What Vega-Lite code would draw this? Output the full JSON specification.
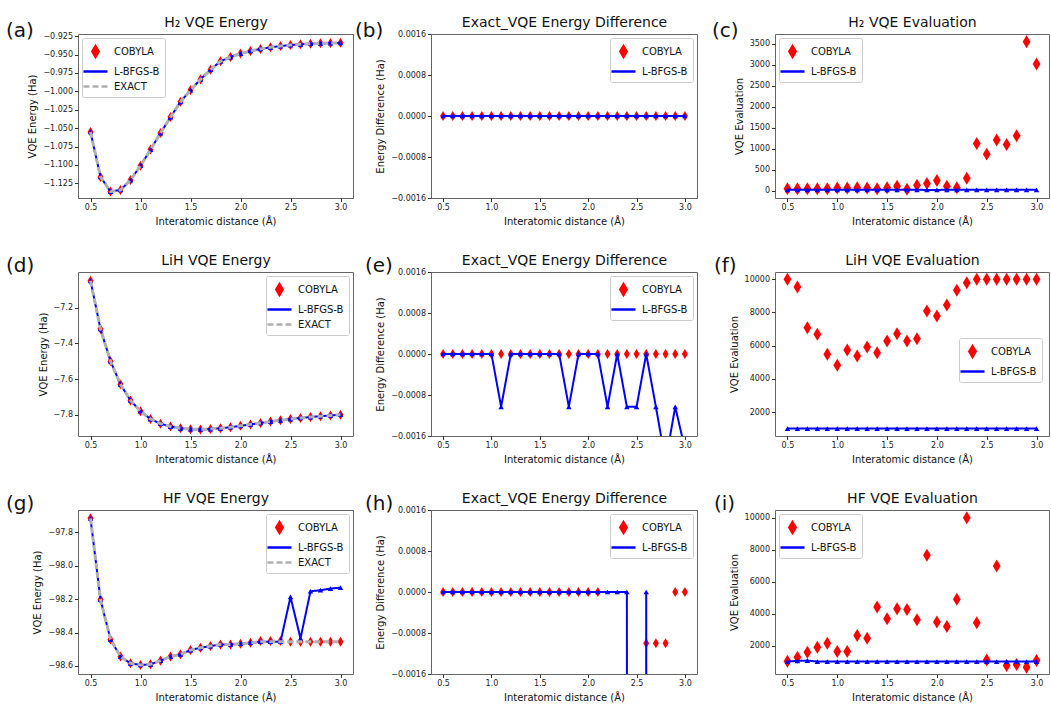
{
"$schema": "https://vega.github.io/schema/vega-lite/v6.json",
"padding": {"left": 5, "top": 14, "right": 5, "bottom": 2},
"background": "white",
"columns": 3,
"spacing": {"row": 74, "column": 78},
"bounds": "flush",
"resolve": {"scale": {"x": "independent", "y": "independent", "color": "independent", "shape": "independent", "strokeDash": "independent"}, "legend": {"color": "independent", "shape": "independent", "strokeDash": "independent"}, "axis": {"x": "independent", "y": "independent"}},
"datasets": {
"a": [
{"x":0.5,"c":-1.0551,"l":-1.0551,"e":-1.0551},{"x":0.6,"c":-1.1163,"l":-1.1163,"e":-1.1163},{"x":0.7,"c":-1.1362,"l":-1.1362,"e":-1.1362},{"x":0.8,"c":-1.1341,"l":-1.1341,"e":-1.1341},{"x":0.9,"c":-1.1206,"l":-1.1206,"e":-1.1206},{"x":1.0,"c":-1.1011,"l":-1.1011,"e":-1.1011},{"x":1.1,"c":-1.0792,"l":-1.0792,"e":-1.0792},{"x":1.2,"c":-1.0567,"l":-1.0567,"e":-1.0567},{"x":1.3,"c":-1.0349,"l":-1.0349,"e":-1.0349},{"x":1.4,"c":-1.0142,"l":-1.0142,"e":-1.0142},{"x":1.5,"c":-0.9983,"l":-0.9983,"e":-0.9983},{"x":1.6,"c":-0.9837,"l":-0.9837,"e":-0.9837},{"x":1.7,"c":-0.9706,"l":-0.9706,"e":-0.9706},{"x":1.8,"c":-0.9591,"l":-0.9591,"e":-0.9591},{"x":1.9,"c":-0.9533,"l":-0.9533,"e":-0.9533},{"x":2.0,"c":-0.9486,"l":-0.9486,"e":-0.9486},{"x":2.1,"c":-0.9451,"l":-0.9451,"e":-0.9451},{"x":2.2,"c":-0.9423,"l":-0.9423,"e":-0.9423},{"x":2.3,"c":-0.9401,"l":-0.9401,"e":-0.9401},{"x":2.4,"c":-0.9384,"l":-0.9384,"e":-0.9384},{"x":2.5,"c":-0.937,"l":-0.937,"e":-0.937},{"x":2.6,"c":-0.936,"l":-0.936,"e":-0.936},{"x":2.7,"c":-0.9352,"l":-0.9352,"e":-0.9352},{"x":2.8,"c":-0.9347,"l":-0.9347,"e":-0.9347},{"x":2.9,"c":-0.9343,"l":-0.9343,"e":-0.9343},{"x":3.0,"c":-0.934,"l":-0.934,"e":-0.934}
],
"b": [
{"x":0.5,"c":0,"l":0},{"x":0.6,"c":0,"l":0},{"x":0.7,"c":0,"l":0},{"x":0.8,"c":0,"l":0},{"x":0.9,"c":0,"l":0},{"x":1.0,"c":0,"l":0},{"x":1.1,"c":0,"l":0},{"x":1.2,"c":0,"l":0},{"x":1.3,"c":0,"l":0},{"x":1.4,"c":0,"l":0},{"x":1.5,"c":0,"l":0},{"x":1.6,"c":0,"l":0},{"x":1.7,"c":0,"l":0},{"x":1.8,"c":0,"l":0},{"x":1.9,"c":0,"l":0},{"x":2.0,"c":0,"l":0},{"x":2.1,"c":0,"l":0},{"x":2.2,"c":0,"l":0},{"x":2.3,"c":0,"l":0},{"x":2.4,"c":0,"l":0},{"x":2.5,"c":0,"l":0},{"x":2.6,"c":0,"l":0},{"x":2.7,"c":0,"l":0},{"x":2.8,"c":0,"l":0},{"x":2.9,"c":0,"l":0},{"x":3.0,"c":0,"l":0}
],
"c": [
{"x":0.5,"c":48,"l":20},{"x":0.6,"c":48,"l":20},{"x":0.7,"c":48,"l":20},{"x":0.8,"c":48,"l":20},{"x":0.9,"c":48,"l":20},{"x":1.0,"c":64,"l":20},{"x":1.1,"c":64,"l":20},{"x":1.2,"c":72,"l":20},{"x":1.3,"c":64,"l":20},{"x":1.4,"c":48,"l":20},{"x":1.5,"c":72,"l":20},{"x":1.6,"c":104,"l":20},{"x":1.7,"c":32,"l":20},{"x":1.8,"c":128,"l":20},{"x":1.9,"c":168,"l":18},{"x":2.0,"c":240,"l":18},{"x":2.1,"c":104,"l":20},{"x":2.2,"c":72,"l":20},{"x":2.3,"c":296,"l":20},{"x":2.4,"c":1127,"l":20},{"x":2.5,"c":871,"l":20},{"x":2.6,"c":1207,"l":20},{"x":2.7,"c":1103,"l":20},{"x":2.8,"c":1310,"l":20},{"x":2.9,"c":3548,"l":20},{"x":3.0,"c":3020,"l":20}
],
"d": [
{"x":0.5,"c":-7.05,"l":-7.05,"e":-7.05},{"x":0.6,"c":-7.32,"l":-7.32,"e":-7.32},{"x":0.7,"c":-7.5,"l":-7.5,"e":-7.5},{"x":0.8,"c":-7.63,"l":-7.63,"e":-7.63},{"x":0.9,"c":-7.72,"l":-7.72,"e":-7.72},{"x":1.0,"c":-7.78,"l":-7.78,"e":-7.78},{"x":1.1,"c":-7.824,"l":-7.824,"e":-7.824},{"x":1.2,"c":-7.85,"l":-7.85,"e":-7.85},{"x":1.3,"c":-7.866,"l":-7.866,"e":-7.866},{"x":1.4,"c":-7.876,"l":-7.876,"e":-7.876},{"x":1.5,"c":-7.881,"l":-7.881,"e":-7.881},{"x":1.6,"c":-7.882,"l":-7.882,"e":-7.882},{"x":1.7,"c":-7.88,"l":-7.88,"e":-7.88},{"x":1.8,"c":-7.876,"l":-7.876,"e":-7.876},{"x":1.9,"c":-7.87,"l":-7.87,"e":-7.87},{"x":2.0,"c":-7.862,"l":-7.862,"e":-7.862},{"x":2.1,"c":-7.854,"l":-7.854,"e":-7.854},{"x":2.2,"c":-7.846,"l":-7.846,"e":-7.846},{"x":2.3,"c":-7.838,"l":-7.838,"e":-7.838},{"x":2.4,"c":-7.831,"l":-7.831,"e":-7.831},{"x":2.5,"c":-7.824,"l":-7.824,"e":-7.824},{"x":2.6,"c":-7.818,"l":-7.818,"e":-7.818},{"x":2.7,"c":-7.813,"l":-7.813,"e":-7.813},{"x":2.8,"c":-7.808,"l":-7.808,"e":-7.808},{"x":2.9,"c":-7.804,"l":-7.804,"e":-7.804},{"x":3.0,"c":-7.8,"l":-7.8,"e":-7.8}
],
"e": [
{"x":0.5,"c":0,"l":0},{"x":0.6,"c":0,"l":0},{"x":0.7,"c":0,"l":0},{"x":0.8,"c":0,"l":0},{"x":0.9,"c":0,"l":0},{"x":1.0,"c":0,"l":0},{"x":1.1,"c":0,"l":-0.00103},{"x":1.2,"c":0,"l":0},{"x":1.3,"c":0,"l":0},{"x":1.4,"c":0,"l":0},{"x":1.5,"c":0,"l":0},{"x":1.6,"c":0,"l":0},{"x":1.7,"c":0,"l":0},{"x":1.8,"c":0,"l":-0.00103},{"x":1.9,"c":0,"l":0},{"x":2.0,"c":0,"l":0},{"x":2.1,"c":0,"l":0},{"x":2.2,"c":0,"l":-0.00103},{"x":2.3,"c":0,"l":0},{"x":2.4,"c":0,"l":-0.00103},{"x":2.5,"c":0,"l":-0.00103},{"x":2.6,"c":0,"l":0},{"x":2.7,"c":0,"l":-0.00103},{"x":2.8,"c":0,"l":-0.0021},{"x":2.9,"c":0,"l":-0.00103},{"x":3.0,"c":0,"l":-0.00185}
],
"f": [
{"x":0.5,"c":10000,"l":1000},{"x":0.6,"c":9538,"l":1000},{"x":0.7,"c":7085,"l":1000},{"x":0.8,"c":6683,"l":1000},{"x":0.9,"c":5477,"l":1000},{"x":1.0,"c":4814,"l":1000},{"x":1.1,"c":5739,"l":1000},{"x":1.2,"c":5377,"l":1000},{"x":1.3,"c":5920,"l":1000},{"x":1.4,"c":5578,"l":1000},{"x":1.5,"c":6281,"l":1000},{"x":1.6,"c":6724,"l":1000},{"x":1.7,"c":6281,"l":1000},{"x":1.8,"c":6422,"l":1000},{"x":1.9,"c":8090,"l":1000},{"x":2.0,"c":7789,"l":1000},{"x":2.1,"c":8452,"l":1000},{"x":2.2,"c":9337,"l":1000},{"x":2.3,"c":9799,"l":1000},{"x":2.4,"c":10000,"l":1000},{"x":2.5,"c":10000,"l":1000},{"x":2.6,"c":10000,"l":1000},{"x":2.7,"c":10000,"l":1000},{"x":2.8,"c":10000,"l":1000},{"x":2.9,"c":10000,"l":1000},{"x":3.0,"c":10000,"l":1000}
],
"g": [
{"x":0.5,"c":-97.717,"l":-97.717,"e":-97.717},{"x":0.6,"c":-98.203,"l":-98.203,"e":-98.203},{"x":0.7,"c":-98.441,"l":-98.441,"e":-98.441},{"x":0.8,"c":-98.544,"l":-98.544,"e":-98.544},{"x":0.9,"c":-98.584,"l":-98.584,"e":-98.584},{"x":1.0,"c":-98.594,"l":-98.594,"e":-98.594},{"x":1.1,"c":-98.59,"l":-98.59,"e":-98.59},{"x":1.2,"c":-98.568,"l":-98.568,"e":-98.568},{"x":1.3,"c":-98.544,"l":-98.544,"e":-98.544},{"x":1.4,"c":-98.53,"l":-98.53,"e":-98.53},{"x":1.5,"c":-98.505,"l":-98.505,"e":-98.505},{"x":1.6,"c":-98.491,"l":-98.491,"e":-98.491},{"x":1.7,"c":-98.481,"l":-98.481,"e":-98.481},{"x":1.8,"c":-98.471,"l":-98.471,"e":-98.471},{"x":1.9,"c":-98.471,"l":-98.471,"e":-98.471},{"x":2.0,"c":-98.467,"l":-98.467,"e":-98.467},{"x":2.1,"c":-98.461,"l":-98.461,"e":-98.461},{"x":2.2,"c":-98.451,"l":-98.455,"e":-98.455},{"x":2.3,"c":-98.451,"l":-98.455,"e":-98.455},{"x":2.4,"c":-98.451,"l":-98.455,"e":-98.455},{"x":2.5,"c":-98.455,"l":-98.187,"e":-98.455},{"x":2.6,"c":-98.455,"l":-98.435,"e":-98.455},{"x":2.7,"c":-98.455,"l":-98.153,"e":-98.455},{"x":2.8,"c":-98.455,"l":-98.147,"e":-98.455},{"x":2.9,"c":-98.455,"l":-98.137,"e":-98.455},{"x":3.0,"c":-98.455,"l":-98.131,"e":-98.455}
],
"h": [
{"x":0.5,"c":0,"l":0},{"x":0.6,"c":0,"l":0},{"x":0.7,"c":0,"l":0},{"x":0.8,"c":0,"l":0},{"x":0.9,"c":0,"l":0},{"x":1.0,"c":0,"l":0},{"x":1.1,"c":0,"l":0},{"x":1.2,"c":0,"l":0},{"x":1.3,"c":0,"l":0},{"x":1.4,"c":0,"l":0},{"x":1.5,"c":0,"l":0},{"x":1.6,"c":0,"l":0},{"x":1.7,"c":0,"l":0},{"x":1.8,"c":0,"l":0},{"x":1.9,"c":0,"l":0},{"x":2.0,"c":0,"l":0},{"x":2.1,"c":0,"l":0},{"x":2.2,"c":-0.004,"l":0},{"x":2.3,"c":-0.004,"l":0},{"x":2.4,"c":-0.004,"l":0},{"x":2.5,"c":-0.003,"l":-0.268},{"x":2.6,"c":-0.001,"l":0},{"x":2.7,"c":-0.001,"l":-0.302},{"x":2.8,"c":-0.001,"l":-0.308},{"x":2.9,"c":0,"l":-0.318},{"x":3.0,"c":0,"l":-0.324}
],
"i": [
{"x":0.5,"c":1017,"l":1000},{"x":0.6,"c":1268,"l":1040},{"x":0.7,"c":1582,"l":1060},{"x":0.8,"c":1896,"l":1000},{"x":0.9,"c":2147,"l":1000},{"x":1.0,"c":1624,"l":1000},{"x":1.1,"c":1624,"l":1000},{"x":1.2,"c":2629,"l":1000},{"x":1.3,"c":2462,"l":1000},{"x":1.4,"c":4409,"l":1000},{"x":1.5,"c":3676,"l":1000},{"x":1.6,"c":4304,"l":1000},{"x":1.7,"c":4262,"l":1000},{"x":1.8,"c":3613,"l":1000},{"x":1.9,"c":7655,"l":1000},{"x":2.0,"c":3467,"l":1000},{"x":2.1,"c":3195,"l":1000},{"x":2.2,"c":4891,"l":1000},{"x":2.3,"c":10000,"l":1000},{"x":2.4,"c":3425,"l":1000},{"x":2.5,"c":1100,"l":1000},{"x":2.6,"c":6985,"l":1000},{"x":2.7,"c":745,"l":1000},{"x":2.8,"c":807,"l":1000},{"x":2.9,"c":640,"l":1000},{"x":3.0,"c":1059,"l":1000}
]
},
"concat": [
{
"width": 275, "height": 164, "data": {"name": "a"},
"title": {"text": "(a)", "anchor": "start", "frame": "group", "fontSize": 20, "dx": -72, "dy": 26, "offset": 0},
"resolve": {"axis": {"x": "independent"}},
"layer": [
{"mark": {"type": "point", "filled": true, "opacity": 1, "size": 178, "clip": true},
 "encoding": {"x": {"field": "x", "type": "quantitative", "scale": {"domain": [0.375, 3.125], "nice": false, "zero": false}, "axis": {"values": [0.5,1,1.5,2,2.5,3], "tickCount": 12, "format": ".1f", "title": "Interatomic distance (Å)"}},
  "y": {"field": "c", "type": "quantitative", "scale": {"domain": [-1.145, -0.922], "nice": false, "zero": false}, "axis": {"values": [-1.125,-1.1,-1.075,-1.05,-1.025,-1,-0.975,-0.95,-0.925], "tickCount": 12, "format": ".3f", "title": "VQE Energy (Ha)"}},
  "color": {"datum": "COBYLA", "scale": {"domain": ["COBYLA","L-BFGS-B","EXACT"], "range": ["#ff0000","#0000ff","#b0b0b0"]}, "legend": {"title": null, "orient": "top-left"}},
  "shape": {"datum": "COBYLA", "scale": {"domain": ["COBYLA","L-BFGS-B","EXACT"], "range": ["M0,-0.75L0.45,0L0,0.75L-0.45,0Z","M-1.7,0L1.7,0","M-1.7,0L1.7,0"]}, "legend": {"title": null, "orient": "top-left"}}}},
{"mark": {"type": "line", "strokeWidth": 2, "clip": true},
 "encoding": {"x": {"field": "x", "type": "quantitative", "axis": null}, "y": {"field": "l", "type": "quantitative"}, "color": {"datum": "L-BFGS-B"}, "strokeDash": {"datum": "L-BFGS-B", "scale": {"domain": ["COBYLA","L-BFGS-B","EXACT"], "range": [[1,0],[1,0],[6,3]]}, "legend": {"title": null, "orient": "top-left"}}}},
{"mark": {"type": "point", "shape": "triangle-up", "filled": true, "color": "#0000ff", "size": 30, "opacity": 1, "clip": true},
 "encoding": {"x": {"field": "x", "type": "quantitative", "axis": {"orient": "top", "title": "H₂ VQE Energy", "labels": false, "ticks": false, "domain": false, "titleFontSize": 14, "titlePadding": 5}}, "y": {"field": "l", "type": "quantitative"}}},
{"mark": {"type": "line", "strokeWidth": 3, "clip": true},
 "encoding": {"x": {"field": "x", "type": "quantitative", "axis": null}, "y": {"field": "e", "type": "quantitative"}, "color": {"datum": "EXACT"}, "strokeDash": {"datum": "EXACT"}}}
]
},
{
"width": 266, "height": 164, "data": {"name": "b"},
"title": {"text": "(b)", "anchor": "start", "frame": "group", "fontSize": 20, "dx": -76, "dy": 26, "offset": 0},
"resolve": {"axis": {"x": "independent"}},
"layer": [
{"mark": {"type": "point", "filled": true, "opacity": 1, "size": 178, "clip": true},
 "encoding": {"x": {"field": "x", "type": "quantitative", "scale": {"domain": [0.375, 3.125], "nice": false, "zero": false}, "axis": {"values": [0.5,1,1.5,2,2.5,3], "tickCount": 12, "format": ".1f", "title": "Interatomic distance (Å)"}},
  "y": {"field": "c", "type": "quantitative", "scale": {"domain": [-0.0016, 0.0016], "nice": false, "zero": false}, "axis": {"values": [-0.0016,-0.0008,0,0.0008,0.0016], "tickCount": 12, "format": ".4f", "title": "Energy Difference (Ha)"}},
  "color": {"datum": "COBYLA", "scale": {"domain": ["COBYLA","L-BFGS-B"], "range": ["#ff0000","#0000ff"]}, "legend": {"title": null, "orient": "top-right"}},
  "shape": {"datum": "COBYLA", "scale": {"domain": ["COBYLA","L-BFGS-B"], "range": ["M0,-0.75L0.45,0L0,0.75L-0.45,0Z","M-1.7,0L1.7,0"]}, "legend": {"title": null, "orient": "top-right"}}}},
{"mark": {"type": "line", "strokeWidth": 2, "clip": true},
 "encoding": {"x": {"field": "x", "type": "quantitative", "axis": null}, "y": {"field": "l", "type": "quantitative"}, "color": {"datum": "L-BFGS-B"}, "strokeDash": {"datum": "L-BFGS-B", "scale": {"domain": ["COBYLA","L-BFGS-B"], "range": [[1,0],[1,0]]}, "legend": {"title": null, "orient": "top-right"}}}},
{"mark": {"type": "point", "shape": "triangle-up", "filled": true, "color": "#0000ff", "size": 30, "opacity": 1, "clip": true},
 "encoding": {"x": {"field": "x", "type": "quantitative", "axis": {"orient": "top", "title": "Exact_VQE Energy Difference", "labels": false, "ticks": false, "domain": false, "titleFontSize": 14, "titlePadding": 5}}, "y": {"field": "l", "type": "quantitative"}}}
]
},
{
"width": 274, "height": 164, "data": {"name": "c"},
"title": {"text": "(c)", "anchor": "start", "frame": "group", "fontSize": 20, "dx": -63, "dy": 26, "offset": 0},
"resolve": {"axis": {"x": "independent"}},
"layer": [
{"mark": {"type": "point", "filled": true, "opacity": 1, "size": 300, "clip": true},
 "encoding": {"x": {"field": "x", "type": "quantitative", "scale": {"domain": [0.375, 3.125], "nice": false, "zero": false}, "axis": {"values": [0.5,1,1.5,2,2.5,3], "tickCount": 12, "format": ".1f", "title": "Interatomic distance (Å)"}},
  "y": {"field": "c", "type": "quantitative", "scale": {"domain": [-175, 3735], "nice": false, "zero": false}, "axis": {"values": [0,500,1000,1500,2000,2500,3000,3500], "tickCount": 12, "format": "d", "title": "VQE Evaluation"}},
  "color": {"datum": "COBYLA", "scale": {"domain": ["COBYLA","L-BFGS-B"], "range": ["#ff0000","#0000ff"]}, "legend": {"title": null, "orient": "top-left"}},
  "shape": {"datum": "COBYLA", "scale": {"domain": ["COBYLA","L-BFGS-B"], "range": ["M0,-0.75L0.45,0L0,0.75L-0.45,0Z","M-1.7,0L1.7,0"]}, "legend": {"title": null, "orient": "top-left"}}}},
{"mark": {"type": "line", "strokeWidth": 2, "clip": true},
 "encoding": {"x": {"field": "x", "type": "quantitative", "axis": null}, "y": {"field": "l", "type": "quantitative"}, "color": {"datum": "L-BFGS-B"}, "strokeDash": {"datum": "L-BFGS-B", "scale": {"domain": ["COBYLA","L-BFGS-B"], "range": [[1,0],[1,0]]}, "legend": {"title": null, "orient": "top-left"}}}},
{"mark": {"type": "point", "shape": "triangle-up", "filled": true, "color": "#0000ff", "size": 30, "opacity": 1, "clip": true},
 "encoding": {"x": {"field": "x", "type": "quantitative", "axis": {"orient": "top", "title": "H₂ VQE Evaluation", "labels": false, "ticks": false, "domain": false, "titleFontSize": 14, "titlePadding": 5}}, "y": {"field": "l", "type": "quantitative"}}}
]
},
{
"width": 275, "height": 164, "data": {"name": "d"},
"title": {"text": "(d)", "anchor": "start", "frame": "group", "fontSize": 20, "dx": -72, "dy": 23, "offset": 0},
"resolve": {"axis": {"x": "independent"}},
"layer": [
{"mark": {"type": "point", "filled": true, "opacity": 1, "size": 178, "clip": true},
 "encoding": {"x": {"field": "x", "type": "quantitative", "scale": {"domain": [0.375, 3.125], "nice": false, "zero": false}, "axis": {"values": [0.5,1,1.5,2,2.5,3], "tickCount": 12, "format": ".1f", "title": "Interatomic distance (Å)"}},
  "y": {"field": "c", "type": "quantitative", "scale": {"domain": [-7.919, -7.001], "nice": false, "zero": false}, "axis": {"values": [-7.8,-7.6,-7.4,-7.2], "tickCount": 12, "format": ".1f", "title": "VQE Energy (Ha)"}},
  "color": {"datum": "COBYLA", "scale": {"domain": ["COBYLA","L-BFGS-B","EXACT"], "range": ["#ff0000","#0000ff","#b0b0b0"]}, "legend": {"title": null, "orient": "top-right"}},
  "shape": {"datum": "COBYLA", "scale": {"domain": ["COBYLA","L-BFGS-B","EXACT"], "range": ["M0,-0.75L0.45,0L0,0.75L-0.45,0Z","M-1.7,0L1.7,0","M-1.7,0L1.7,0"]}, "legend": {"title": null, "orient": "top-right"}}}},
{"mark": {"type": "line", "strokeWidth": 2, "clip": true},
 "encoding": {"x": {"field": "x", "type": "quantitative", "axis": null}, "y": {"field": "l", "type": "quantitative"}, "color": {"datum": "L-BFGS-B"}, "strokeDash": {"datum": "L-BFGS-B", "scale": {"domain": ["COBYLA","L-BFGS-B","EXACT"], "range": [[1,0],[1,0],[6,3]]}, "legend": {"title": null, "orient": "top-right"}}}},
{"mark": {"type": "point", "shape": "triangle-up", "filled": true, "color": "#0000ff", "size": 30, "opacity": 1, "clip": true},
 "encoding": {"x": {"field": "x", "type": "quantitative", "axis": {"orient": "top", "title": "LiH VQE Energy", "labels": false, "ticks": false, "domain": false, "titleFontSize": 14, "titlePadding": 5}}, "y": {"field": "l", "type": "quantitative"}}},
{"mark": {"type": "line", "strokeWidth": 3, "clip": true},
 "encoding": {"x": {"field": "x", "type": "quantitative", "axis": null}, "y": {"field": "e", "type": "quantitative"}, "color": {"datum": "EXACT"}, "strokeDash": {"datum": "EXACT"}}}
]
},
{
"width": 266, "height": 164, "data": {"name": "e"},
"title": {"text": "(e)", "anchor": "start", "frame": "group", "fontSize": 20, "dx": -66, "dy": 23, "offset": 0},
"resolve": {"axis": {"x": "independent"}},
"layer": [
{"mark": {"type": "point", "filled": true, "opacity": 1, "size": 178, "clip": true},
 "encoding": {"x": {"field": "x", "type": "quantitative", "scale": {"domain": [0.375, 3.125], "nice": false, "zero": false}, "axis": {"values": [0.5,1,1.5,2,2.5,3], "tickCount": 12, "format": ".1f", "title": "Interatomic distance (Å)"}},
  "y": {"field": "c", "type": "quantitative", "scale": {"domain": [-0.0016, 0.0016], "nice": false, "zero": false}, "axis": {"values": [-0.0016,-0.0008,0,0.0008,0.0016], "tickCount": 12, "format": ".4f", "title": "Energy Difference (Ha)"}},
  "color": {"datum": "COBYLA", "scale": {"domain": ["COBYLA","L-BFGS-B"], "range": ["#ff0000","#0000ff"]}, "legend": {"title": null, "orient": "top-right"}},
  "shape": {"datum": "COBYLA", "scale": {"domain": ["COBYLA","L-BFGS-B"], "range": ["M0,-0.75L0.45,0L0,0.75L-0.45,0Z","M-1.7,0L1.7,0"]}, "legend": {"title": null, "orient": "top-right"}}}},
{"mark": {"type": "line", "strokeWidth": 2, "clip": true},
 "encoding": {"x": {"field": "x", "type": "quantitative", "axis": null}, "y": {"field": "l", "type": "quantitative"}, "color": {"datum": "L-BFGS-B"}, "strokeDash": {"datum": "L-BFGS-B", "scale": {"domain": ["COBYLA","L-BFGS-B"], "range": [[1,0],[1,0]]}, "legend": {"title": null, "orient": "top-right"}}}},
{"mark": {"type": "point", "shape": "triangle-up", "filled": true, "color": "#0000ff", "size": 30, "opacity": 1, "clip": true},
 "encoding": {"x": {"field": "x", "type": "quantitative", "axis": {"orient": "top", "title": "Exact_VQE Energy Difference", "labels": false, "ticks": false, "domain": false, "titleFontSize": 14, "titlePadding": 5}}, "y": {"field": "l", "type": "quantitative"}}}
]
},
{
"width": 274, "height": 164, "data": {"name": "f"},
"title": {"text": "(f)", "anchor": "start", "frame": "group", "fontSize": 20, "dx": -61, "dy": 23, "offset": 0},
"resolve": {"axis": {"x": "independent"}},
"layer": [
{"mark": {"type": "point", "filled": true, "opacity": 1, "size": 300, "clip": true},
 "encoding": {"x": {"field": "x", "type": "quantitative", "scale": {"domain": [0.375, 3.125], "nice": false, "zero": false}, "axis": {"values": [0.5,1,1.5,2,2.5,3], "tickCount": 12, "format": ".1f", "title": "Interatomic distance (Å)"}},
  "y": {"field": "c", "type": "quantitative", "scale": {"domain": [553, 10442], "nice": false, "zero": false}, "axis": {"values": [2000,4000,6000,8000,10000], "tickCount": 12, "format": "d", "title": "VQE Evaluation"}},
  "color": {"datum": "COBYLA", "scale": {"domain": ["COBYLA","L-BFGS-B"], "range": ["#ff0000","#0000ff"]}, "legend": {"title": null, "orient": "none", "legendX": 184, "legendY": 66}},
  "shape": {"datum": "COBYLA", "scale": {"domain": ["COBYLA","L-BFGS-B"], "range": ["M0,-0.75L0.45,0L0,0.75L-0.45,0Z","M-1.7,0L1.7,0"]}, "legend": {"title": null, "orient": "none", "legendX": 184, "legendY": 66}}}},
{"mark": {"type": "line", "strokeWidth": 2, "clip": true},
 "encoding": {"x": {"field": "x", "type": "quantitative", "axis": null}, "y": {"field": "l", "type": "quantitative"}, "color": {"datum": "L-BFGS-B"}, "strokeDash": {"datum": "L-BFGS-B", "scale": {"domain": ["COBYLA","L-BFGS-B"], "range": [[1,0],[1,0]]}, "legend": {"title": null, "orient": "none", "legendX": 184, "legendY": 66}}}},
{"mark": {"type": "point", "shape": "triangle-up", "filled": true, "color": "#0000ff", "size": 30, "opacity": 1, "clip": true},
 "encoding": {"x": {"field": "x", "type": "quantitative", "axis": {"orient": "top", "title": "LiH VQE Evaluation", "labels": false, "ticks": false, "domain": false, "titleFontSize": 14, "titlePadding": 5}}, "y": {"field": "l", "type": "quantitative"}}}
]
},
{
"width": 275, "height": 164, "data": {"name": "g"},
"title": {"text": "(g)", "anchor": "start", "frame": "group", "fontSize": 20, "dx": -72, "dy": 23, "offset": 0},
"resolve": {"axis": {"x": "independent"}},
"layer": [
{"mark": {"type": "point", "filled": true, "opacity": 1, "size": 178, "clip": true},
 "encoding": {"x": {"field": "x", "type": "quantitative", "scale": {"domain": [0.375, 3.125], "nice": false, "zero": false}, "axis": {"values": [0.5,1,1.5,2,2.5,3], "tickCount": 12, "format": ".1f", "title": "Interatomic distance (Å)"}},
  "y": {"field": "c", "type": "quantitative", "scale": {"domain": [-98.648, -97.667], "nice": false, "zero": false}, "axis": {"values": [-98.6,-98.4,-98.2,-98.0,-97.8], "tickCount": 12, "format": ".1f", "title": "VQE Energy (Ha)"}},
  "color": {"datum": "COBYLA", "scale": {"domain": ["COBYLA","L-BFGS-B","EXACT"], "range": ["#ff0000","#0000ff","#b0b0b0"]}, "legend": {"title": null, "orient": "top-right"}},
  "shape": {"datum": "COBYLA", "scale": {"domain": ["COBYLA","L-BFGS-B","EXACT"], "range": ["M0,-0.75L0.45,0L0,0.75L-0.45,0Z","M-1.7,0L1.7,0","M-1.7,0L1.7,0"]}, "legend": {"title": null, "orient": "top-right"}}}},
{"mark": {"type": "line", "strokeWidth": 2, "clip": true},
 "encoding": {"x": {"field": "x", "type": "quantitative", "axis": null}, "y": {"field": "l", "type": "quantitative"}, "color": {"datum": "L-BFGS-B"}, "strokeDash": {"datum": "L-BFGS-B", "scale": {"domain": ["COBYLA","L-BFGS-B","EXACT"], "range": [[1,0],[1,0],[6,3]]}, "legend": {"title": null, "orient": "top-right"}}}},
{"mark": {"type": "point", "shape": "triangle-up", "filled": true, "color": "#0000ff", "size": 30, "opacity": 1, "clip": true},
 "encoding": {"x": {"field": "x", "type": "quantitative", "axis": {"orient": "top", "title": "HF VQE Energy", "labels": false, "ticks": false, "domain": false, "titleFontSize": 14, "titlePadding": 5}}, "y": {"field": "l", "type": "quantitative"}}},
{"mark": {"type": "line", "strokeWidth": 3, "clip": true},
 "encoding": {"x": {"field": "x", "type": "quantitative", "axis": null}, "y": {"field": "e", "type": "quantitative"}, "color": {"datum": "EXACT"}, "strokeDash": {"datum": "EXACT"}}}
]
},
{
"width": 266, "height": 164, "data": {"name": "h"},
"title": {"text": "(h)", "anchor": "start", "frame": "group", "fontSize": 20, "dx": -66, "dy": 23, "offset": 0},
"resolve": {"axis": {"x": "independent"}},
"layer": [
{"mark": {"type": "point", "filled": true, "opacity": 1, "size": 178, "clip": true},
 "encoding": {"x": {"field": "x", "type": "quantitative", "scale": {"domain": [0.375, 3.125], "nice": false, "zero": false}, "axis": {"values": [0.5,1,1.5,2,2.5,3], "tickCount": 12, "format": ".1f", "title": "Interatomic distance (Å)"}},
  "y": {"field": "c", "type": "quantitative", "scale": {"domain": [-0.0016, 0.0016], "nice": false, "zero": false}, "axis": {"values": [-0.0016,-0.0008,0,0.0008,0.0016], "tickCount": 12, "format": ".4f", "title": "Energy Difference (Ha)"}},
  "color": {"datum": "COBYLA", "scale": {"domain": ["COBYLA","L-BFGS-B"], "range": ["#ff0000","#0000ff"]}, "legend": {"title": null, "orient": "top-right"}},
  "shape": {"datum": "COBYLA", "scale": {"domain": ["COBYLA","L-BFGS-B"], "range": ["M0,-0.75L0.45,0L0,0.75L-0.45,0Z","M-1.7,0L1.7,0"]}, "legend": {"title": null, "orient": "top-right"}}}},
{"mark": {"type": "line", "strokeWidth": 2, "clip": true},
 "encoding": {"x": {"field": "x", "type": "quantitative", "axis": null}, "y": {"field": "l", "type": "quantitative"}, "color": {"datum": "L-BFGS-B"}, "strokeDash": {"datum": "L-BFGS-B", "scale": {"domain": ["COBYLA","L-BFGS-B"], "range": [[1,0],[1,0]]}, "legend": {"title": null, "orient": "top-right"}}}},
{"mark": {"type": "point", "shape": "triangle-up", "filled": true, "color": "#0000ff", "size": 30, "opacity": 1, "clip": true},
 "encoding": {"x": {"field": "x", "type": "quantitative", "axis": {"orient": "top", "title": "Exact_VQE Energy Difference", "labels": false, "ticks": false, "domain": false, "titleFontSize": 14, "titlePadding": 5}}, "y": {"field": "l", "type": "quantitative"}}}
]
},
{
"width": 274, "height": 164, "data": {"name": "i"},
"title": {"text": "(i)", "anchor": "start", "frame": "group", "fontSize": 20, "dx": -61, "dy": 23, "offset": 0},
"resolve": {"axis": {"x": "independent"}},
"layer": [
{"mark": {"type": "point", "filled": true, "opacity": 1, "size": 300, "clip": true},
 "encoding": {"x": {"field": "x", "type": "quantitative", "scale": {"domain": [0.375, 3.125], "nice": false, "zero": false}, "axis": {"values": [0.5,1,1.5,2,2.5,3], "tickCount": 12, "format": ".1f", "title": "Interatomic distance (Å)"}},
  "y": {"field": "c", "type": "quantitative", "scale": {"domain": [220, 10482], "nice": false, "zero": false}, "axis": {"values": [2000,4000,6000,8000,10000], "tickCount": 12, "format": "d", "title": "VQE Evaluation"}},
  "color": {"datum": "COBYLA", "scale": {"domain": ["COBYLA","L-BFGS-B"], "range": ["#ff0000","#0000ff"]}, "legend": {"title": null, "orient": "top-left"}},
  "shape": {"datum": "COBYLA", "scale": {"domain": ["COBYLA","L-BFGS-B"], "range": ["M0,-0.75L0.45,0L0,0.75L-0.45,0Z","M-1.7,0L1.7,0"]}, "legend": {"title": null, "orient": "top-left"}}}},
{"mark": {"type": "line", "strokeWidth": 2, "clip": true},
 "encoding": {"x": {"field": "x", "type": "quantitative", "axis": null}, "y": {"field": "l", "type": "quantitative"}, "color": {"datum": "L-BFGS-B"}, "strokeDash": {"datum": "L-BFGS-B", "scale": {"domain": ["COBYLA","L-BFGS-B"], "range": [[1,0],[1,0]]}, "legend": {"title": null, "orient": "top-left"}}}},
{"mark": {"type": "point", "shape": "triangle-up", "filled": true, "color": "#0000ff", "size": 30, "opacity": 1, "clip": true},
 "encoding": {"x": {"field": "x", "type": "quantitative", "axis": {"orient": "top", "title": "HF VQE Evaluation", "labels": false, "ticks": false, "domain": false, "titleFontSize": 14, "titlePadding": 5}}, "y": {"field": "l", "type": "quantitative"}}}
]
}
],
"config": {
 "font": "DejaVu Sans",
 "view": {"stroke": "#666666", "strokeWidth": 1},
 "axis": {"grid": false, "domain": false, "tickColor": "#333333", "tickSize": 3.5, "labelFontSize": 8, "labelColor": "#222222", "titleFontSize": 10, "titleFontWeight": "normal", "titleColor": "#111111", "labelPadding": 2, "titlePadding": 5, "labelOverlap": false},
 "title": {"fontSize": 20, "fontWeight": "normal", "color": "#111111"},
 "legend": {"labelFontSize": 10, "labelColor": "#111111", "strokeColor": "#cccccc", "fillColor": "white", "padding": 5, "cornerRadius": 2, "symbolSize": 200, "symbolStrokeWidth": 2.5, "rowPadding": 1, "labelOffset": 10, "offset": 4}
}
}
